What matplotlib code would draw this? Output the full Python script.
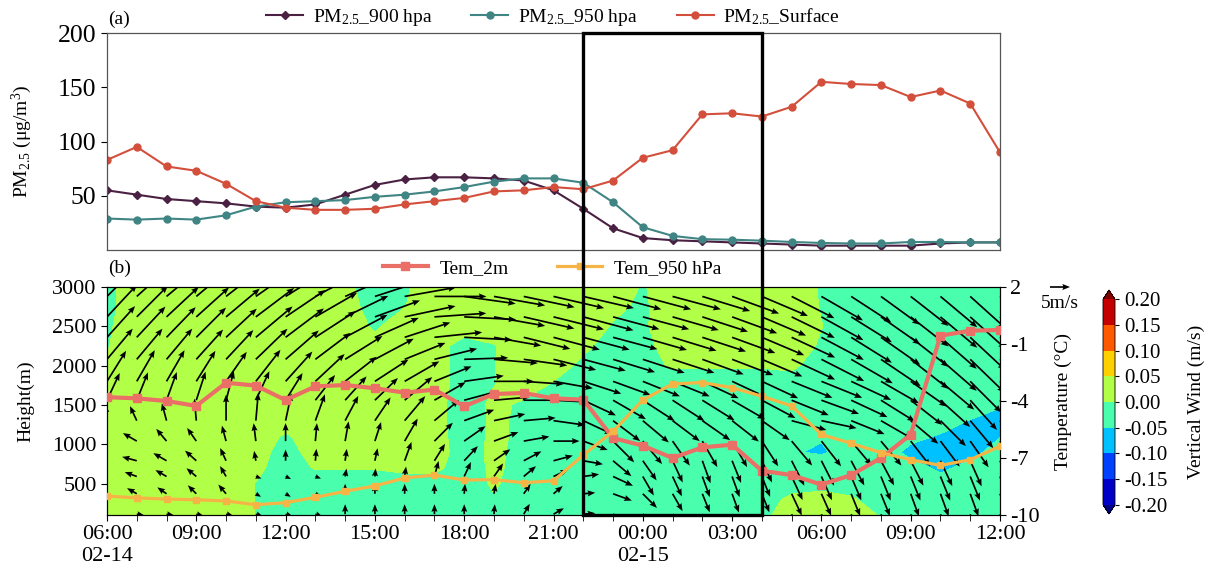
import numpy as np
import matplotlib
matplotlib.use('Agg')
import matplotlib.pyplot as plt
from matplotlib.colors import ListedColormap, BoundaryNorm
from matplotlib.patches import Rectangle
import matplotlib.transforms as mtransforms

plt.rcParams['font.family'] = ['Liberation Serif', 'DejaVu Serif']
plt.rcParams['mathtext.fontset'] = 'custom'
plt.rcParams['mathtext.rm'] = 'Liberation Serif'
plt.rcParams['mathtext.it'] = 'Liberation Serif:italic'
plt.rcParams['axes.unicode_minus'] = False

# ---------------- data ----------------
hours = list(range(31))  # hourly, 06:00 02-14 ... 12:00 02-15
xtick_pos = [0, 3, 6, 9, 12, 15, 18, 21, 24, 27, 30]
xtick_labels = ['06:00\n02-14', '09:00', '12:00', '15:00', '18:00', '21:00',
                '00:00\n02-15', '03:00', '06:00', '09:00', '12:00']

pm_900 = [55, 51, 47, 45, 43, 40, 39, 42, 51, 60, 65, 67, 67, 66, 64, 55, 38,
          20, 11, 9, 8, 7, 6, 5, 4, 4, 4, 4, 6, 7, 7]
pm_950 = [29, 28, 29, 28, 32, 40, 44, 45, 46, 49, 51, 54, 58, 63, 66, 66, 62,
          44, 21, 13, 10, 9.5, 8.6, 7.4, 6.5, 6, 6, 7.4, 7.4, 7, 7]
pm_sfc = [83, 95, 77, 73, 61, 45, 39, 37, 37, 38, 42, 45, 48, 54, 55, 58, 56,
          64, 85, 92, 125, 126, 123, 132, 155, 153, 152, 141, 147, 135, 90]

tem_2m = [-3.8, -3.86, -4.0, -4.26, -3.04, -3.19, -3.95, -3.23, -3.16, -3.33, -3.56,
          -3.4, -4.28, -3.63, -3.58, -3.86, -3.93, -5.95, -6.35, -7.0, -6.44,
          -6.3, -7.67, -7.9, -8.4, -7.9, -7.0, -5.77, -0.56, -0.3, -0.26]
tem_950 = [-9.0, -9.1, -9.16, -9.2, -9.26, -9.46, -9.35, -9.07, -8.75, -8.47, -8.05,
           -7.9, -8.16, -8.14, -8.3, -8.2, -6.84, -5.6, -3.95, -3.1, -3.03,
           -3.3, -3.75, -4.26, -5.76, -6.23, -6.72, -7.09, -7.39, -7.09, -6.38]

# vertical wind (cm/s) on height levels (m)
w_heights = [100, 300, 500, 700, 900, 1100, 1300, 1500, 1750, 2000, 2250, 2500, 2750, 3000]
w_100 = [2, 2, 2, 2, 2, -0.1, -2, -2, -2, -2, -2, -2, -2, -2, -2, -2, -2, -2, -2, -2, -2, -2, -1, 2, 2, 2, -0.3, -2, -2, -2, -2]
w_300 = [2, 2, 2, 2, 2, -0.1, -2, -2, -2, -2, -2, -2, -2, -0.3, -2, -2, -2, -2, -2, -2, -2, -2, -2, 1, 2, 0.5, -2, -2, -2, -2, -2]
w_500 = [2, 2, 2, 2, 2, -0.1, -2, -2, -2, -2, -2, -2, -2, 0.5, -2, -2, -2, -2, -2, -2, -2, -2, -2, -2, -1.8, -2, -2, -2, -3, -2, -2]
w_700 = [2, 2, 2, 2, 2, 1, -2, 0.3, 0.3, 0.3, 1, 1, -2, 0.8, -1.5, -2, -2, -2, -2, -2, -2, -2, -2, -2.5, -2, -2, -2, -3, -6, -3.5, -2]
w_900 = [2, 2, 2, 2, 2, 2, -2, 2, 2, 2, 2, 2, -2, 1, -1.5, -2, -2, -2, -2, -2, -2, -2, -2, -4.6, -5.6, -3, -2, -6.5, -7, -6.5, -3]
w_1100 = [2, 2, 2, 2, 2, 2, -0.5, 2, 2, 2, 2, 2, -2.5, 1, -1, -2, -2, -2, -2, -2, -2, -2, -2, -3, -4.6, -2.5, -2, -3.5, -5.5, -7, -5.2]
w_1300 = [2, 2, 2, 2, 2, 2, 2, 2, 2, 2, 2, 2, -3, 1, -1, -2, -2, -2, -2, -2, -2, -2, -2, -2, -2, -2, -2, -2, -2.5, -5.2, -7]
w_1500 = [2, 2, 2, 2, 2, 2, 2, 2, 2, 2, 2, 2, -3, 1.2, -0.8, -2, -2, -2, -2, -2, -2, -2, -2, -2, -2, -2, -2, -2, -2, -2, -4.5]
w_1750 = [2, 2, 2, 2, 2, 2, 2, 2, 2, 2, 2, 2, -2, -0.1, 2, -0.5, -2, -2, -2, -2, -2, -2, -2, -2, -2, -2, -2, -2, -2, -2, -2]
w_2000 = [0.5, 2, 2, 2, 2, 2, 2, 2, 2, 2, 2, 2, -2, -0.1, 2, 2, -1, -2, -1, 0.3, 0.3, 0.3, 0.3, 0.8, -2, -2, -2, -2, -2, -2, -2]
w_2250 = [-0.2, 2, 2, 2, 2, 2, 2, 2, 2, 1, 2, 2, -2, -0.2, 2, 2, 1, -2, -1, 1.5, 2, 2, 2, 2, -0.5, -2, -2, -2, -2, -2, -2]
w_2500 = [-0.5, 2, 2, 2, 2, 2, 2, 2, 2, -0.5, 2, 2, 2.5, 2, 2, 2, 2, -0.3, -0.5, 2, 2, 2, 2, 2, 0.1, -2, -2, -2, -2, -2, -2]
w_2750 = [-1, 2, 2, 2, 2, 2, 2, 2, 2, -2, -0.1, 2, 2, 2, 2, 2, 2, 0.8, -0.6, 2, 2, 2, 2, 2, -0.2, -2, -2, -2, -2, -2, -2]
w_3000 = [-1, 2, 2, 2, 2, 2, 2, 2, 1, -2, -0.5, 2, 2, 2, 2, 2, 2, 2, -0.3, 2, 2, 2, 2, 2, -0.35, -2, -2, -2, -2, -2, -2]
w_cms = [w_100, w_300, w_500, w_700, w_900, w_1100, w_1300, w_1500, w_1750,
         w_2000, w_2250, w_2500, w_2750, w_3000]
cb_levels = [-0.2, -0.15, -0.1, -0.05, 0.0, 0.05, 0.1, 0.15, 0.2]

# horizontal wind: direction the arrow points (deg, ccw from east) and speed (m/s)
wind_heights = [110, 370, 590, 790, 1040, 1300, 1560, 1800, 2080, 2360, 2620, 2880]
dir_r0 = [160, -10, -10, -15, -15, -20, -20, -20, 90, 90, 90, 90, 90, 85, 60, 30, 5, -20, -30, -50, -60, -65, -65, -65, -66, -68, -68, -70, -70, -70, -70]
dir_r1 = [150, 150, 145, 135, 130, -30, -30, -25, 90, 90, 90, 90, 85, 80, 55, 40, 5, -20, -45, -60, -68, -70, -68, -65, -66, -68, -68, -70, -70, -70, -70]
dir_r2 = [160, 160, 150, 140, 120, -20, -25, -20, 80, 85, 82, 75, 65, 55, 40, 25, 8, -25, -60, -65, -70, -70, -68, -65, -66, -67, -68, -68, -68, -68, -70]
dir_r3 = [170, 165, 150, 138, 115, 100, 90, 85, 82, 78, 70, 58, 47, 35, 28, 15, -10, -40, -55, -65, -70, -68, -65, -63, -63, -62, -62, -63, -65, -66, -66]
dir_r4 = [115, 150, 130, 125, 105, 97, 90, 85, 80, 72, 60, 45, 35, 20, 10, 0, -20, -45, -50, -55, -60, -60, -57, -50, -52, -50, -50, -52, -53, -55, -60]
dir_r5 = [95, 115, 105, 95, 90, 85, 78, 70, 62, 56, 50, 40, 20, 12, 5, -8, -25, -37, -40, -37, -35, -38, -35, -15, -12, -22, -30, -40, -45, -50, -53]
dir_r6 = [65, 68, 70, 72, 75, 65, 58, 52, 48, 44, 40, 30, 15, 5, 0, -3, -25, -30, -33, -33, -32, -30, -28, -22, -20, -25, -32, -38, -42, -48, -52]
dir_r7 = [58, 60, 60, 58, 55, 52, 48, 43, 38, 33, 30, 22, 8, 0, -4, -10, -18, -20, -22, -22, -25, -25, -25, -22, -22, -25, -30, -35, -40, -45, -48]
dir_r8 = [50, 50, 50, 48, 47, 44, 41, 37, 32, 28, 22, 14, 2, -5, -8, -14, -15, -17, -18, -18, -20, -21, -23, -25, -27, -30, -34, -38, -41, -44, -46]
dir_r9 = [48, 47, 46, 45, 43, 40, 37, 33, 28, 24, 18, 6, -3, -10, -14, -15, -15, -15, -16, -17, -18, -20, -23, -25, -28, -32, -35, -38, -41, -43, -45]
dir_r10 = [47, 45, 43, 42, 40, 37, 34, 30, 26, 20, 12, 4, -3, -10, -13, -14, -15, -15, -15, -16, -18, -20, -23, -26, -29, -32, -35, -38, -40, -42, -43]
dir_r11 = [45, 42, 40, 40, 38, 35, 32, 28, 24, 18, 10, 0, -8, -10, -12, -13, -13, -15, -15, -15, -17, -20, -23, -27, -30, -33, -36, -38, -40, -42, -43]
spd_r0 = [2.5, 2, 2, 2, 2, 2, 2, 2, 2.5, 2.5, 2.5, 2.5, 2.5, 2.5, 3, 3, 3, 4.5, 4.5, 4.5, 4.5, 4.5, 4.5, 6, 6, 6, 6, 6, 6, 6, 6]
spd_r1 = [2.8, 2.8, 2.8, 3, 3, 1.5, 1.5, 1.5, 2.5, 2.5, 2.5, 2.5, 2.5, 2.5, 3, 3, 3, 5, 5, 5, 5, 5, 5, 6, 6, 6, 6, 6, 6, 6, 6]
spd_r2 = [3.2, 3.2, 3.2, 3.2, 3, 1.5, 1.5, 1.5, 2, 2, 2.5, 4, 4, 4, 4, 4, 4, 5.5, 5.5, 5.5, 5.5, 5.5, 5.5, 6.5, 6.5, 6.5, 6.5, 6.5, 6.5, 6.5, 6.5]
spd_r3 = [3.5, 3.8, 3.8, 3.8, 3.5, 2.5, 2.8, 3, 3, 3.2, 5, 5, 5, 5, 5, 5, 5, 6, 6, 6, 6, 6, 6, 7, 7, 7, 7, 7, 7, 7, 7]
spd_r4 = [3.5, 4, 4, 4, 4, 4.5, 4.5, 4.5, 5, 5, 6.5, 6.5, 6.5, 6.5, 6.5, 6.5, 6.5, 7.5, 7.5, 7.5, 7.5, 7.5, 7.5, 8, 8, 8, 8, 8, 8, 8, 8]
spd_r5 = [4, 4, 4.5, 5.5, 6.5, 7, 7, 7, 7, 7, 8, 8, 8, 8, 8, 8, 8, 8.5, 8.5, 8.5, 8.5, 8.5, 8.5, 9, 9, 9, 9, 9, 9, 9, 9]
spd_r6 = [7.5, 7.5, 7.5, 7.5, 7.5, 8, 8, 8, 8, 8, 9, 9, 9, 9, 9, 9, 9, 9.5, 9.5, 9.5, 9.5, 9.5, 9.5, 10, 10, 10, 10, 10, 10, 10, 10]
spd_r7 = [9, 9, 9, 9, 9, 10, 10, 10, 10, 10, 10, 10, 10, 10, 10, 10, 10, 10, 10, 10, 10, 10, 10, 11, 11, 11, 11, 11, 11, 11, 11]
spd_r8 = [10, 10, 10, 10, 10, 11, 11, 11, 11, 11, 11, 11, 11, 11, 11, 11, 11, 11, 11, 11, 11, 11, 11, 12, 12, 12, 12, 12, 12, 12, 12]
spd_r9 = [10.5, 10.5, 10.5, 10.5, 10.5, 12, 12, 12, 12, 12, 12, 12, 12, 12, 12, 12, 12, 11.5, 11.5, 11.5, 11.5, 11.5, 11.5, 12, 12, 12, 12, 12, 12, 12, 12]
spd_r10 = [11, 11, 11, 11, 11, 12, 12, 12, 12, 12, 13, 13, 13, 13, 13, 13, 13, 12, 12, 12, 12, 12, 12, 12, 12, 12, 12, 12, 12, 12, 12]
spd_r11 = [11, 11, 11, 11, 11, 12.5, 12.5, 12.5, 12.5, 12.5, 13, 13, 13, 13, 13, 13, 13, 12.5, 12.5, 12.5, 12.5, 12.5, 12.5, 12, 12, 12, 12, 12, 12, 12, 12]
wind_dir = [dir_r0, dir_r1, dir_r2, dir_r3, dir_r4, dir_r5, dir_r6, dir_r7, dir_r8, dir_r9, dir_r10, dir_r11]
wind_spd = [spd_r0, spd_r1, spd_r2, spd_r3, spd_r4, spd_r5, spd_r6, spd_r7, spd_r8, spd_r9, spd_r10, spd_r11]

# ---------------- figure ----------------
W_PX, H_PX = 1212, 573
fig = plt.figure(figsize=(W_PX / 100, H_PX / 100), dpi=100)

def fx(px):
    return px / W_PX

def fy(py):
    return 1 - py / H_PX

L, R = 107, 1000
ax1 = fig.add_axes([fx(L), fy(250), fx(R - L), (250 - 33) / H_PX])
ax2 = fig.add_axes([fx(L), fy(515), fx(R - L), (515 - 287) / H_PX])

# --- panel (a)
c900, c950, csfc = '#4a2142', '#3f8583', '#d34f3b'
ax1.plot(hours, pm_900, color=c900, lw=1.5, marker='D', ms=4, label='PM$_{2.5}$_900 hpa')
ax1.plot(hours, pm_950, color=c950, lw=1.5, marker='o', ms=5, label='PM$_{2.5}$_950 hpa')
ax1.plot(hours, pm_sfc, color=csfc, lw=1.5, marker='o', ms=5, label='PM$_{2.5}$_Surface')
ax1.set_xlim(0, 30)
ax1.set_ylim(0, 200)
ax1.set_yticks([50, 100, 150, 200])
ax1.tick_params(axis='x', bottom=False, labelbottom=False)
ax1.tick_params(axis='y', labelsize=18.5, length=4)
for s in ax1.spines.values():
    s.set_color('#555555')
    s.set_linewidth(0.9)
ax1.set_ylabel('PM$_{2.5}$ (μg/m$^3$)', fontsize=14)
ax1.yaxis.set_label_coords(-(L - 34) / (R - L), 0.5)

# --- panel (b)
jet = plt.get_cmap('jet')
cols = jet(np.linspace(0.0625, 0.9375, 8))
cmap = ListedColormap(cols)
cmap.set_under(jet(0.0))
cmap.set_over(jet(1.0))
norm = BoundaryNorm(cb_levels, 8)
W = np.array(w_cms) / 100.0
cf = ax2.contourf(hours, w_heights, W, levels=cb_levels, cmap=cmap, norm=norm,
                  extend='both', zorder=1)

TQ, ZQ = np.meshgrid(hours, wind_heights)
ang = np.deg2rad(np.array(wind_dir, dtype=float))
spd = np.array(wind_spd, dtype=float)
U = spd * np.cos(ang)
V = spd * np.sin(ang)
q = ax2.quiver(TQ, ZQ, U, V, angles='uv', scale=25, scale_units='inches',
               width=0.0019, headwidth=3.6, headlength=4.5, headaxislength=4,
               color='k', pivot='tail', zorder=3)
ax2.quiverkey(q, X=fx(1060), Y=fy(287), U=5, label='5m/s', labelpos='S',
              coordinates='figure', fontproperties={'size': 14}, labelsep=0.08)

ax2.set_xlim(0, 30)
ax2.set_ylim(100, 3000)
ax2.set_yticks([500, 1000, 1500, 2000, 2500, 3000])
ax2.set_xticks(xtick_pos)
ax2.set_xticklabels(xtick_labels)
ax2.set_xticks(hours, minor=True)
ax2.tick_params(axis='both', which='major', labelsize=16, length=4)
ax2.tick_params(axis='x', which='minor', length=4)
ax2.set_ylabel('Height(m)', fontsize=14)
ax2.yaxis.set_label_coords(-(L - 34) / (R - L), 0.5)

ax3 = ax2.twinx()
ax3.plot(hours, tem_2m, color='#ea6f66', lw=3, marker='s', ms=6, label='Tem_2m', zorder=4)
ax3.plot(hours, tem_950, color='#f6b447', lw=2.3, marker='s', ms=4.5, label='Tem_950 hPa', zorder=4)
ax3.set_xlim(0, 30)
ax3.set_ylim(-10, 2)
ax3.set_yticks([2, -1, -4, -7, -10])
ax3.tick_params(axis='y', labelsize=16, length=4)
ax3.set_ylabel('Temperature (°C)', fontsize=14)
ax3.yaxis.set_label_coords(1 + (1055 - R) / (R - L), 0.5)

# colorbar
cax = fig.add_axes([fx(1103), fy(514), fx(12), (514 - 290) / H_PX])
cb = fig.colorbar(cf, cax=cax, ticks=cb_levels, extendfrac=0.045)
cb.ax.set_yticklabels(['%.2f' % v for v in cb_levels])
cb.ax.tick_params(labelsize=15, length=3)
cb.set_label('Vertical Wind (m/s)', fontsize=14)
cb.ax.yaxis.set_label_coords((1188 - 1103) / 12, 0.5)
cb.outline.set_linewidth(0.6)

# legends
h1, l1 = ax1.get_legend_handles_labels()
fig.legend(h1, l1, loc='center', bbox_to_anchor=(fx(553), fy(17)), ncol=3,
           frameon=False, fontsize=14, handlelength=1.9, handletextpad=0.5,
           columnspacing=2.0, borderpad=0)
h3, l3 = ax3.get_legend_handles_labels()
fig.legend(h3, l3, loc='center', bbox_to_anchor=(fx(552), fy(268)), ncol=2,
           frameon=False, fontsize=14, handlelength=2.3, handletextpad=0.6,
           columnspacing=2.5, borderpad=0)

fig.text(fx(108), fy(19), '(a)', fontsize=14, ha='left', va='center')
fig.text(fx(108), fy(268), '(b)', fontsize=14, ha='left', va='center')

# highlighted period box spanning both panels (22:00 to 04:00)
blend = mtransforms.blended_transform_factory(ax2.transData, fig.transFigure)
y0, y1 = fy(515), fy(33)
fig.add_artist(Rectangle((16, y0), 6, y1 - y0, transform=blend, fill=False,
                         lw=2.4, ec='k', zorder=20))

fig.savefig('out.png', dpi=100)
